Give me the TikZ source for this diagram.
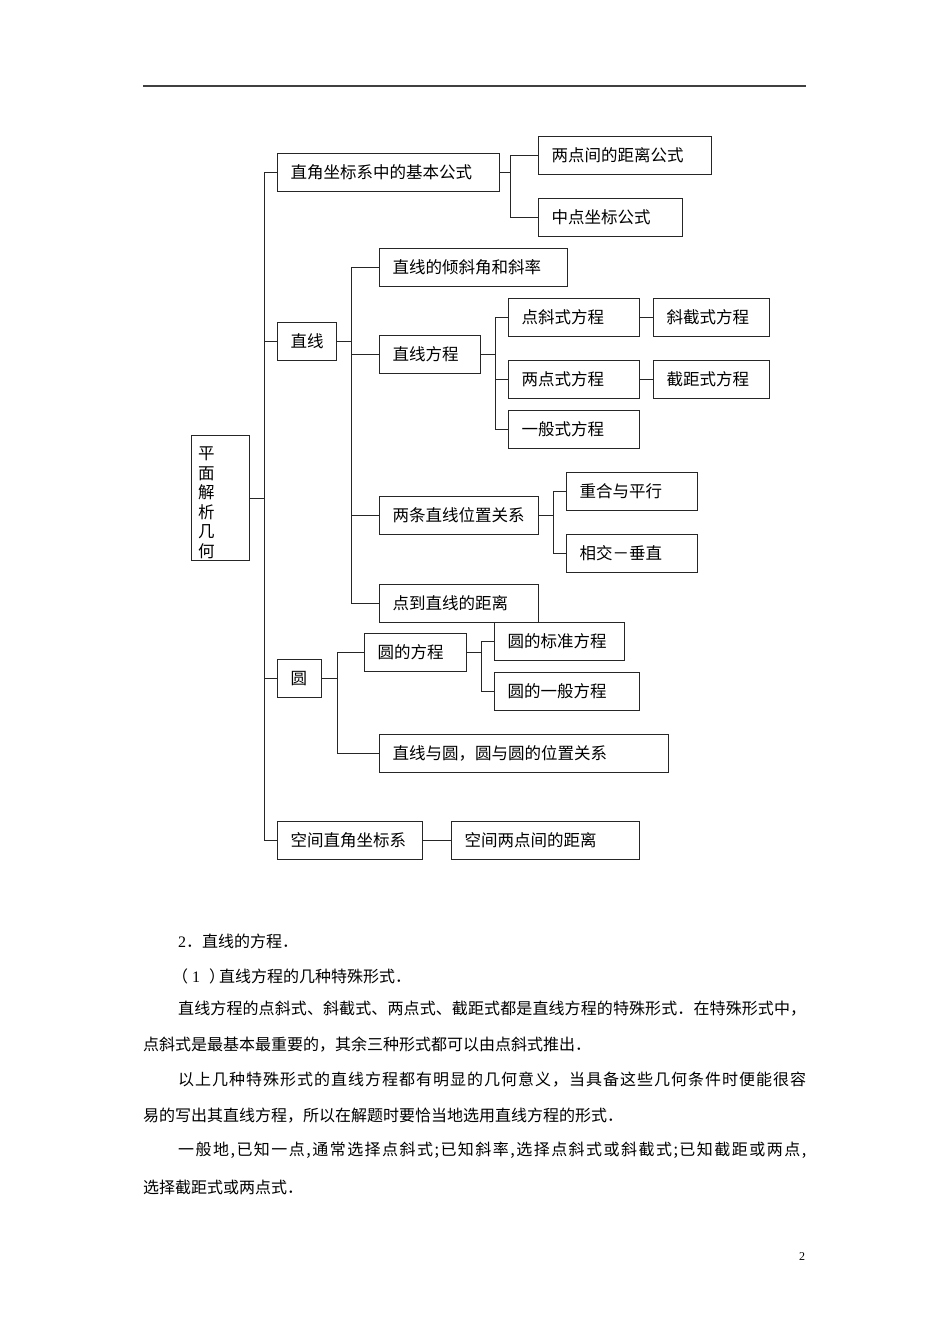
\documentclass[tikz,border=0pt]{standalone}
\usepackage{fontspec}
\setmainfont{Liberation Serif}
\newfontfamily\cjk{Noto Sans CJK SC}
\newcommand\bx[2]{\makebox[#1pt][l]{#2}}
\def\spreadit#1{\spreadloop#1\relax}
\def\spreadloop#1{\ifx#1\relax\else #1\hfil\expandafter\spreadloop\fi}
\newcommand\justline[2]{\hbox to #1pt{\spreadit{#2}\unskip}}
\tikzset{
  box/.style={draw=black!85, line width=1.1pt, anchor=north west, minimum height=37.5pt,
    inner xsep=13pt, inner ysep=0pt, font=\cjk\fontsize{16.5}{18}\selectfont},
  link/.style={draw=black!85, line width=1pt},
  body/.style={anchor=west, inner sep=0pt, font=\cjk\fontsize{16}{18}\selectfont},
}
\begin{document}
\begin{tikzpicture}[x=1pt,y=-1pt]
\useasboundingbox (0,0) rectangle (950,1344);
% header rule
\coordinate (hl) at (143,86);
\coordinate (hr) at (806,86);
\draw[line width=1.3pt, black!75] (hl) -- (hr);

% root
\node[box, minimum width=58pt, minimum height=125pt, inner sep=0pt] (root) at (191,435) {};
\node[anchor=north west, inner sep=0pt, align=left, font=\cjk\fontsize{16.5}{19.5}\selectfont] (roottxt) at (198,447) {平\\面\\解\\析\\几\\何};

% level 1
\node[box] (b1) at (277,153) {\bx{196}{直角坐标系中的基本公式}};
\node[box] (b2) at (277,322) {\bx{33}{直线}};
\node[box] (b3) at (277,659) {\bx{18}{圆}};
\node[box] (b4) at (277,821) {\bx{119}{空间直角坐标系}};

% b1 children
\node[box] (b11) at (538,136) {\bx{147}{两点间的距离公式}};
\node[box] (b12) at (538,198) {\bx{118}{中点坐标公式}};

% b2 children
\node[box] (b21) at (379,248) {\bx{162}{直线的倾斜角和斜率}};
\node[box] (b22) at (379,335) {\bx{75}{直线方程}};
\node[box] (b23) at (379,496) {\bx{133}{两条直线位置关系}};
\node[box] (b24) at (379,584) {\bx{133}{点到直线的距离}};

\node[box] (b221) at (508,298) {\bx{105}{点斜式方程}};
\node[box] (b2211) at (653,298) {\bx{90}{斜截式方程}};
\node[box] (b222) at (508,360) {\bx{105}{两点式方程}};
\node[box] (b2221) at (653,360) {\bx{90}{截距式方程}};
\node[box] (b223) at (508,410) {\bx{105}{一般式方程}};

\node[box] (b231) at (566,472) {\bx{105}{重合与平行}};
\node[box] (b232) at (566,534) {\bx{105}{相交－垂直}};

% b3 children
\node[box] (b31) at (364,633) {\bx{76}{圆的方程}};
\node[box] (b311) at (494,622) {\bx{104}{圆的标准方程}};
\node[box] (b312) at (494,672) {\bx{119}{圆的一般方程}};
\node[box] (b32) at (379,734) {\bx{263}{直线与圆，圆与圆的位置关系}};

% b4 child
\node[box] (b41) at (451,821) {\bx{162}{空间两点间的距离}};

% connectors
\foreach \c in {b1,b2,b3,b4} \draw[link] (root.east) -- ++(14,0) |- (\c.west);
\foreach \c in {b11,b12} \draw[link] (b1.east) -- ++(10,0) |- (\c.west);
\foreach \c in {b21,b22,b23,b24} \draw[link] (b2.east) -- ++(14,0) |- (\c.west);
\foreach \c in {b221,b222,b223} \draw[link] (b22.east) -- ++(14,0) |- (\c.west);
\draw[link] (b221.east) -- (b2211.west);
\draw[link] (b222.east) -- (b2221.west);
\foreach \c in {b231,b232} \draw[link] (b23.east) -- ++(14,0) |- (\c.west);
\foreach \c in {b31,b32} \draw[link] (b3.east) -- ++(15,0) |- (\c.west);
\foreach \c in {b311,b312} \draw[link] (b31.east) -- ++(14,0) |- (\c.west);
\draw[link] (b4.east) -- (b41.west);

% body text
\node[body] (t1) at (178,941) {{\rmfamily 2}．直线的方程．};
\node[body] (t2) at (172,976) {（\kern4pt{\rmfamily 1}\kern9pt）\kern-6pt 直线方程的几种特殊形式．};
\node[body] (t3) at (178,1009) {\justline{628}{直线方程的点斜式、斜截式、两点式、截距式都是直线方程的特殊形式．在特殊形式中，}};
\node[body] (t4) at (143,1045) {点斜式是最基本最重要的，其余三种形式都可以由点斜式推出．};
\node[body] (t5) at (178,1080) {\justline{628}{以上几种特殊形式的直线方程都有明显的几何意义，当具备这些几何条件时便能很容}};
\node[body] (t6) at (143,1116) {易的写出其直线方程，所以在解题时要恰当地选用直线方程的形式．};
\node[body] (t7) at (178,1150) {\justline{628}{一般地,已知一点,通常选择点斜式;已知斜率,选择点斜式或斜截式;已知截距或两点,}};
\node[body] (t8) at (143,1187) {选择截距式或两点式．};

\node[anchor=center, inner sep=0pt, font=\rmfamily\fontsize{12}{14}\selectfont] (pg) at (802,1257) {2};
\end{tikzpicture}
\end{document}
